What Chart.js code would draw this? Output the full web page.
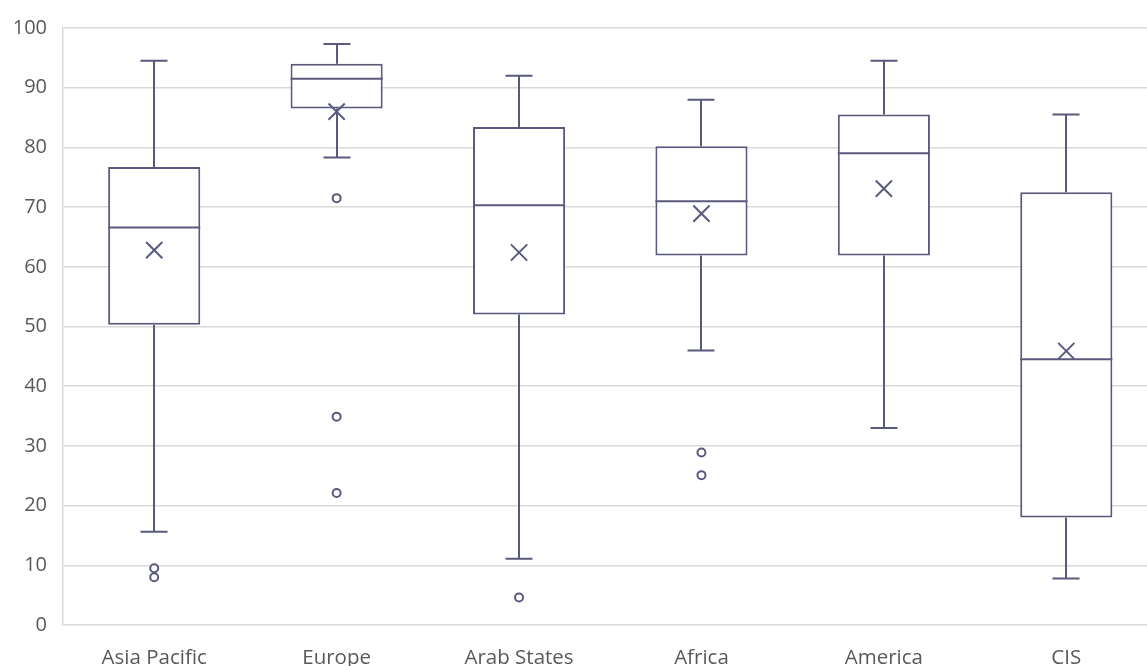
<!DOCTYPE html>
<html>
<head>
<meta charset="utf-8">
<script src="https://cdn.jsdelivr.net/npm/chart.js@4.4.1/dist/chart.umd.min.js"></script>
<style>
html,body{margin:0;padding:0;background:#fff;overflow:hidden;}
#wrap{width:1147px;height:666px;position:relative;overflow:hidden;}
canvas{display:block;}
</style>
</head>
<body>
<div id="wrap"><canvas id="c" width="1171" height="666"></canvas></div>
<script>
const categories = ["Asia Pacific", "Europe", "Arab States", "Africa", "America", "CIS"];
const whiskerHigh = [94.5, 97.3, 92.0, 88.0, 94.5, 85.5];
const q3Values    = [76.7, 94.0, 83.4, 80.2, 85.5, 72.5];
const medians     = [66.6, 91.5, 70.3, 71.0, 79.0, 44.5];
const q1Values    = [50.3, 86.5, 52.0, 61.9, 61.9, 18.0];
const whiskerLow  = [15.6, 78.3, 11.1, 46.0, 33.0, 7.8];
const means       = [62.8, 86.0, 62.4, 68.9, 73.1, 45.9];
const outlierCats = ["Asia Pacific", "Asia Pacific", "Europe", "Europe", "Europe", "Arab States", "Africa", "Africa"];
const outlierVals = [9.5, 8.0, 71.5, 34.9, 22.1, 4.6, 28.9, 25.1];
const yTicks = [0, 10, 20, 30, 40, 50, 60, 70, 80, 90, 100];

const STROKE = "#5a5a7e";
const TEXT = "#595959";
const GRID = "#d9d9d9";

const boxLines = {
  id: "boxLines",
  beforeDatasetsDraw(chart) {
    const ctx = chart.ctx, x = chart.scales.x, y = chart.scales.y;
    const cap = 13.5;
    ctx.save();
    ctx.strokeStyle = STROKE;
    ctx.lineWidth = 2;
    categories.forEach((c, i) => {
      const px = Math.round(x.getPixelForValue(i));
      const yh = y.getPixelForValue(whiskerHigh[i]);
      const y3 = y.getPixelForValue(q3Values[i]);
      const y1 = y.getPixelForValue(q1Values[i]);
      const yl = y.getPixelForValue(whiskerLow[i]);
      ctx.beginPath();
      ctx.moveTo(px, yh); ctx.lineTo(px, y3);
      ctx.moveTo(px, y1); ctx.lineTo(px, yl);
      ctx.moveTo(px - cap, yh); ctx.lineTo(px + cap, yh);
      ctx.moveTo(px - cap, yl); ctx.lineTo(px + cap, yl);
      ctx.stroke();
    });
    ctx.restore();
  },
  afterDatasetDraw(chart, args) {
    if (args.index !== 0) return;
    const ctx = chart.ctx, y = chart.scales.y;
    const meta = chart.getDatasetMeta(0);
    ctx.save();
    ctx.strokeStyle = STROKE;
    ctx.lineWidth = 2;
    meta.data.forEach((bar, i) => {
      const half = bar.width / 2;
      const ym = y.getPixelForValue(medians[i]);
      ctx.beginPath();
      ctx.moveTo(bar.x - half, ym); ctx.lineTo(bar.x + half, ym);
      ctx.stroke();
    });
    ctx.restore();
  }
};

new Chart(document.getElementById("c"), {
  data: {
    labels: categories,
    datasets: [
      {
        type: "bar",
        label: "Box",
        data: categories.map((c, i) => [q1Values[i], q3Values[i]]),
        backgroundColor: "#ffffff",
        borderColor: STROKE,
        borderWidth: 2,
        borderSkipped: false,
        categoryPercentage: 1,
        barPercentage: 0.505,
        order: 3
      },
      {
        type: "line",
        label: "Mean",
        data: means,
        showLine: false,
        pointStyle: "crossRot",
        pointRadius: 11.5,
        pointBorderWidth: 2,
        pointBorderColor: STROKE,
        pointBackgroundColor: STROKE,
        order: 1
      },
      {
        type: "line",
        label: "Outliers",
        data: outlierCats.map((c, i) => ({ x: c, y: outlierVals[i] })),
        showLine: false,
        pointStyle: "circle",
        pointRadius: 4,
        pointBorderWidth: 2,
        pointBorderColor: STROKE,
        pointBackgroundColor: "#ffffff",
        order: 2
      }
    ]
  },
  options: {
    responsive: false,
    animation: false,
    events: [],
    layout: { padding: { top: 26, left: 0, right: 0, bottom: 0 } },
    plugins: { legend: { display: false }, tooltip: { enabled: false } },
    scales: {
      x: {
        type: "category",
        offset: true,
        grid: { display: false, drawTicks: false },
        border: { display: false },
        ticks: { color: TEXT, font: { family: "Open Sans", size: 20.5 }, padding: 21, maxRotation: 0, autoSkip: false },
        afterFit(s) { s.height = 41; }
      },
      y: {
        min: 0, max: 100,
        afterBuildTicks(s) { s.ticks = yTicks.map(v => ({ value: v })); },
        grid: { color: GRID, lineWidth: 1.5, drawTicks: false },
        border: { display: true, color: GRID, width: 1.5 },
        ticks: { color: TEXT, font: { family: "Open Sans", size: 20 }, padding: 16 },
        afterFit(s) { s.width = 63; }
      }
    }
  },
  plugins: [boxLines]
});
</script>
</body>
</html>
